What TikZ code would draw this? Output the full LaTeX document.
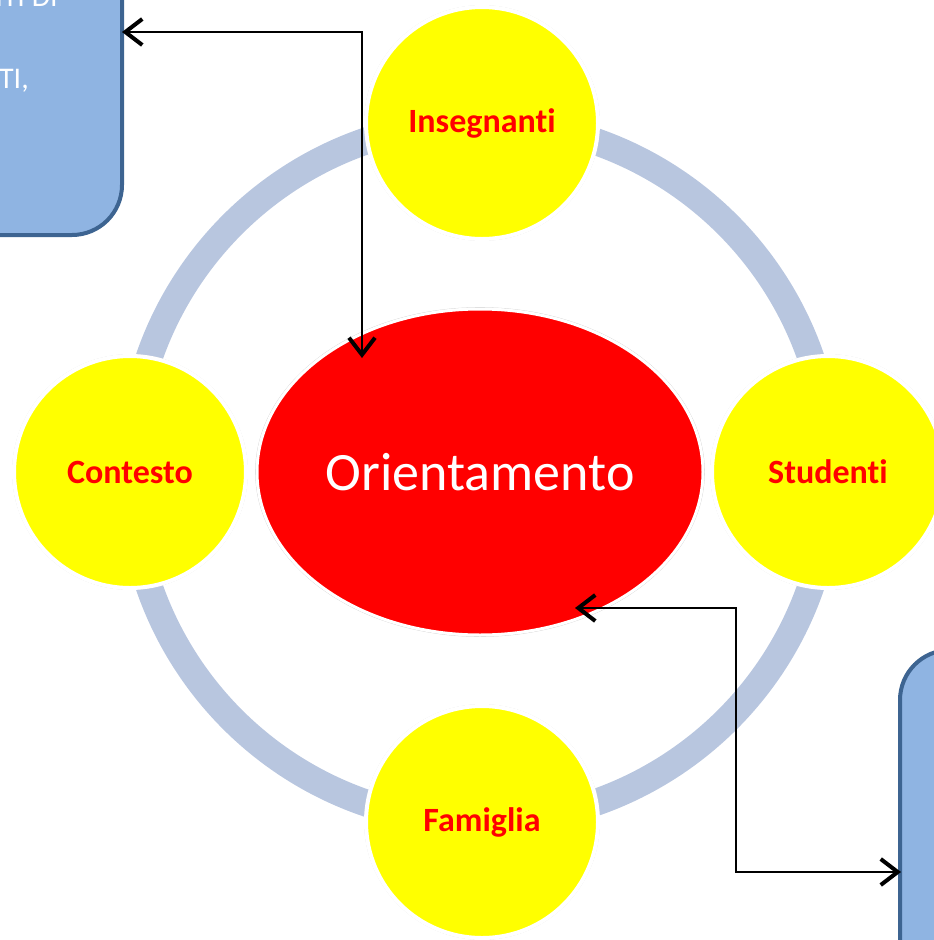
\documentclass[tikz,border=0pt]{standalone}
\usepackage{fontspec}
\setmainfont{Carlito}[Ligatures=NoCommon]
\usetikzlibrary{arrows.meta,shapes.geometric}
\definecolor{ringc}{HTML}{B8C6DF}
\definecolor{boxfill}{HTML}{8FB4E2}
\definecolor{boxline}{HTML}{3D6491}
\definecolor{edgegray}{HTML}{D0D0D0}
\definecolor{pureyellow}{HTML}{FFFF00}
\definecolor{purered}{HTML}{FF0000}
\tikzset{
  satellite/.style={circle,fill=pureyellow,draw=white,line width=4pt,minimum size=232pt,inner sep=0pt,
     font=\fontsize{34}{40}\selectfont\bfseries,text=purered},
  sidebox/.style={rounded corners=50pt,fill=boxfill,draw=boxline,line width=4pt},
  biarrow/.style={draw=black,line width=1.8pt,{Straight Barb[length=17pt,width=26pt,line width=4pt]}-{Straight Barb[length=17pt,width=26pt,line width=4pt]}},
  boxtext/.style={text=white,font=\fontsize{30}{36}\selectfont,inner sep=0pt}
}
\begin{document}
\begin{tikzpicture}[x=1pt,y=-1pt]
\useasboundingbox (0,0) rectangle (934,940);
\clip (0,0) rectangle (934,940);
% side boxes
\path[sidebox] (-60,-60) rectangle (122,235);
\node[boxtext,anchor=base east] (t1) at (58,6) {NTI DI};
\node[boxtext,anchor=base east] (t2) at (29,88) {TI,};
\path[sidebox] (900,650) rectangle (1000,1000);
% ring
\node[circle,draw=ringc,line width=27pt,minimum size=700pt,inner sep=0pt] (ring) at (480,472) {};
% satellites
\foreach \n/\x/\y/\t in {ins/482/123/Insegnanti,stu/828/472/Studenti,fam/482/822/Famiglia,con/130/472/Contesto}{
  \draw[edgegray,line width=0.6pt] (\x,\y) circle (117.5);
  \node[satellite] (\n) at (\x,\y) {\t};
}
% centre
\draw[edgegray,line width=0.6pt] (480,472) ellipse (224.5 and 164.5);
\node[ellipse,fill=purered,draw=white,line width=3pt,minimum width=446pt,minimum height=326pt,inner sep=0pt,
  font=\fontsize{54}{60}\selectfont,text=white] (ori) at (480,472) {Orientamento};
% connectors
\coordinate (a1) at (122,32);
\coordinate (a2) at (362,358);
\coordinate (b1) at (575,608);
\coordinate (b2) at (901,872);
\draw[biarrow] (a1) -- (a1 -| a2) -- (a2);
\draw[biarrow] (b1) -- (736,608) -- (736,872) -- (b2);
\end{tikzpicture}
\end{document}
